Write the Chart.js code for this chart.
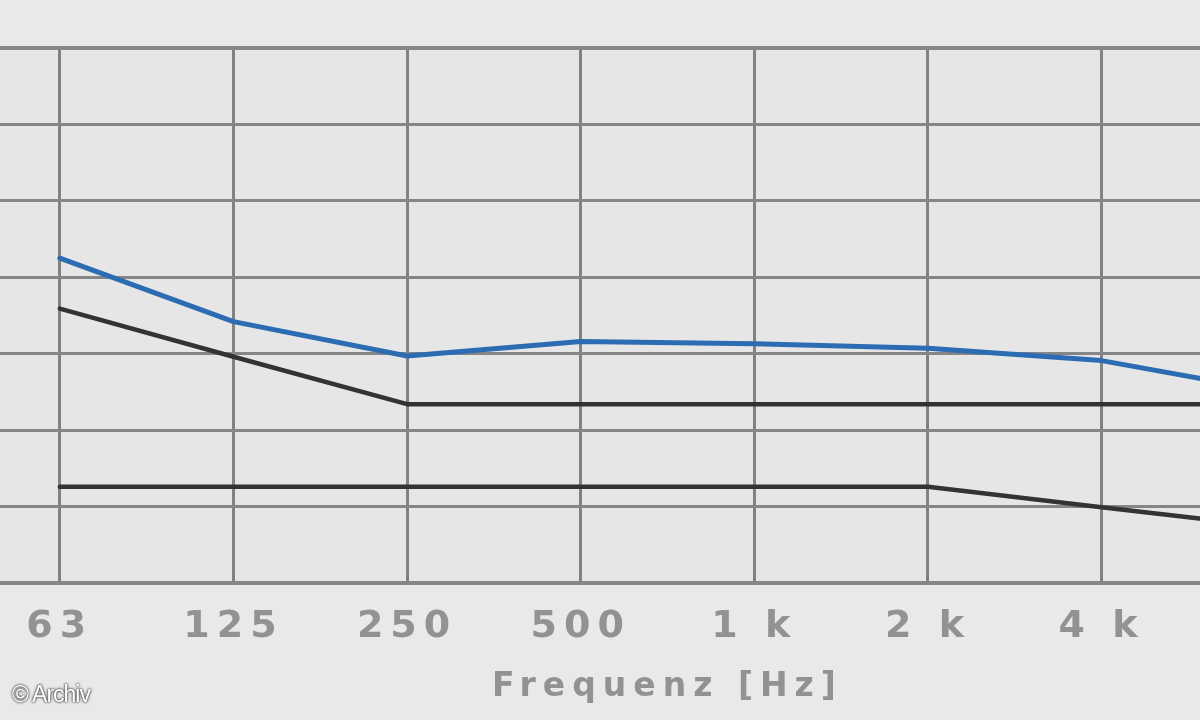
<!DOCTYPE html>
<html>
<head>
<meta charset="utf-8">
<script src="https://cdn.jsdelivr.net/npm/chart.js@4"></script>
<style>
  html, body { margin: 0; padding: 0; background: #e9e9e9; overflow: hidden; width: 1200px; height: 720px; }
  #wrap { position: absolute; left: -27px; top: 0; width: 1389px; height: 720px; }
  #credit {
    position: absolute; left: 12px; top: 681px;
    font-family: "Liberation Sans", Arial, sans-serif; font-size: 23px; letter-spacing: -1px;
    color: #fff; text-shadow: 0 0 2px #222, 0 0 3px #444;
  }
</style>
</head>
<body>
<div id="wrap"><canvas id="freqChart"></canvas></div>
<div id="credit">© Archiv</div>
<script>
const FREQ_LABELS = ["63", "125", "250", "500", "1 k", "2 k", "4 k", "8 k"];
const MEASURED = [4.25, 3.42, 2.97, 3.16, 3.13, 3.07, 2.91, 2.50];
const UPPER_LIMIT = [3.59, 2.96, 2.34, 2.34, 2.34, 2.34, 2.34, 2.34];
const LOWER_LIMIT = [1.26, 1.26, 1.26, 1.26, 1.26, 1.26, 0.99, 0.73];
const Y_MIN = 0;
const Y_MAX = 7;

// canvas letterSpacing is reset when the canvas is resized, so set it before every layout/draw
const spacing = {
    id: "spacing",
    beforeLayout(chart) { chart.ctx.letterSpacing = "7px"; },
    beforeDraw(chart) {
        const ctx = chart.ctx;
        const a = chart.chartArea;
        ctx.letterSpacing = "7px";
        ctx.save();
        ctx.fillStyle = "#e6e6e6";
        ctx.fillRect(a.left, a.top, a.right - a.left, a.bottom - a.top);
        ctx.restore();
    },
};

const lineStyle = {
    fill: false,
    pointRadius: 0,
    pointHoverRadius: 0,
    tension: 0,
    borderJoinStyle: "round",
    borderCapStyle: "round",
};

const chart = new Chart(document.getElementById("freqChart"), {
    type: "line",
    data: {
        labels: FREQ_LABELS,
        datasets: [
            Object.assign({ label: "Messung", data: MEASURED, borderColor: "#2c6cb3", borderWidth: 5 }, lineStyle),
            Object.assign({ label: "Obergrenze", data: UPPER_LIMIT, borderColor: "#333333", borderWidth: 4.5 }, lineStyle),
            Object.assign({ label: "Untergrenze", data: LOWER_LIMIT, borderColor: "#333333", borderWidth: 4.5 }, lineStyle),
        ],
    },
    options: {
        responsive: true,
        maintainAspectRatio: false,
        animation: false,
        events: [],
        layout: { padding: { top: 48, bottom: 16, left: 0, right: 0 } },
        plugins: {
            legend: { display: false },
            tooltip: { enabled: false },
        },
        scales: {
            x: {
                offset: true,
                border: { display: false },
                grid: {
                    color: "#828282",
                    lineWidth: 3,
                    drawTicks: false,
                    offset: false,
                },
                ticks: {
                    color: "#929292",
                    padding: 25,
                    maxRotation: 0,
                    autoSkip: false,
                    font: { family: "DejaVu Sans", size: 38, weight: "bold", lineHeight: 1 },
                },
                title: {
                    display: true,
                    text: "Frequenz [Hz]",
                    color: "#929292",
                    padding: { top: 0, bottom: 0 },
                    font: { family: "DejaVu Sans", size: 33, weight: "bold", lineHeight: 1 },
                },
            },
            y: {
                min: Y_MIN,
                max: Y_MAX,
                border: { display: false },
                afterFit(scale) { scale.width = 0; },
                ticks: { display: false, stepSize: 1 },
                grid: {
                    drawTicks: false,
                    color: "#868686",
                    lineWidth: (c) => (c.tick && (c.tick.value === Y_MIN || c.tick.value === Y_MAX) ? 4 : 3),
                },
            },
        },
    },
    plugins: [spacing],
});
</script>
</body>
</html>
